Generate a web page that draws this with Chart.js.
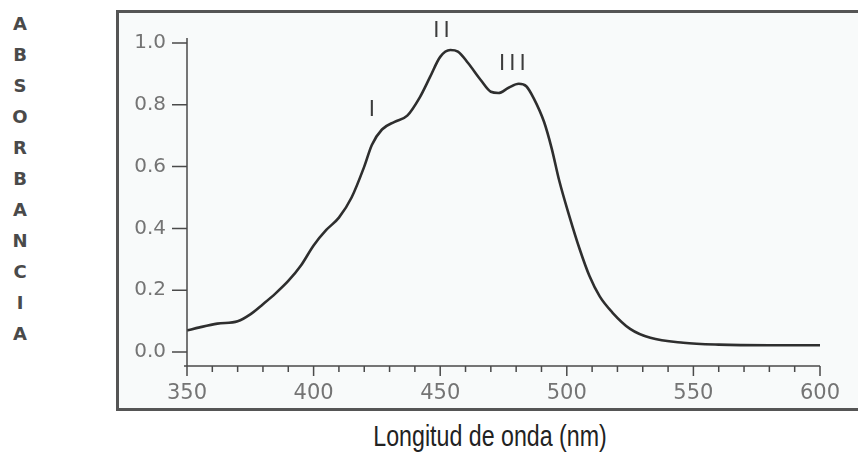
<!DOCTYPE html>
<html>
<head>
<meta charset="utf-8">
<script src="https://cdn.jsdelivr.net/npm/chart.js@4.4.1/dist/chart.umd.min.js"></script>
<style>
  body { margin: 0; background: #fff; }
  #wrap { position: relative; width: 858px; height: 460px; overflow: hidden; }
  #frame {
    position: absolute; left: 116px; top: 10px; width: 800px; height: 395px;
    border: 3px solid #555; background: #f8fafa;
  }
  #ylabel {
    position: absolute; left: 10px; top: 8px; width: 20px; text-align: center;
    font: bold 18px 'DejaVu Sans', sans-serif; line-height: 31px; color: #4a4a4a;
  }
  #xlabel {
    position: absolute; left: 290px; top: 420px; width: 400px; text-align: center;
    font: 29px 'Liberation Sans', sans-serif; color: #222;
    transform: scaleX(0.8); transform-origin: 50% 0;
  }
  canvas { position: absolute; left: 0; top: 0; }
</style>
</head>
<body>
<div id="wrap">
  <div id="frame"></div>
  <div id="ylabel">A<br>B<br>S<br>O<br>R<br>B<br>A<br>N<br>C<br>I<br>A</div>
  <div id="xlabel">Longitud de onda (nm)</div>
  <canvas id="chart" width="858" height="460"></canvas>
</div>
<script>
const WAVELENGTHS = [350, 355, 362, 370, 375, 380, 385, 390, 395, 400, 405, 410, 415, 420, 423, 427, 432, 437, 442, 446, 450, 454, 457, 461, 466, 470, 473, 477, 481, 484, 487, 491, 494, 497, 501, 505, 509, 513, 518, 525, 533, 546, 560, 580, 600];
const ABSORBANCE = [0.07, 0.08, 0.092, 0.1, 0.122, 0.155, 0.19, 0.23, 0.28, 0.345, 0.395, 0.435, 0.5, 0.6, 0.67, 0.72, 0.745, 0.765, 0.825, 0.89, 0.955, 0.977, 0.972, 0.935, 0.88, 0.842, 0.838, 0.855, 0.868, 0.86, 0.82, 0.745, 0.66, 0.555, 0.44, 0.335, 0.245, 0.18, 0.128, 0.075, 0.046, 0.03, 0.024, 0.022, 0.022];

const X_TICKS = [350, 400, 450, 500, 550, 600];
const X_MINOR = [350, 360, 370, 380, 390, 400, 410, 420, 430, 440, 450, 460, 470, 480, 490, 500, 510, 520, 530, 540, 550, 560, 570, 580, 590, 600];
const Y_TICKS = [0, 0.2, 0.4, 0.6, 0.8, 1.0];

const PEAK_NAMES = ['I', 'II', 'III'];
const PEAK_X = [423, 450.5, 478.5];
const PEAK_Y = [0.78, 1.036, 0.93];

const AXIS = '#4a4a4a';
const TICK_TEXT = '#747474';

// axis lines, tick marks and peak labels
const axisLines = {
  id: 'axisLines',
  afterDraw(chart) {
    const { ctx, scales: { x, y } } = chart;
    const x0 = x.getPixelForValue(x.min);
    const y0 = y.getPixelForValue(y.min);
    ctx.save();
    ctx.strokeStyle = AXIS;
    ctx.lineWidth = 1.5;
    ctx.beginPath();
    ctx.moveTo(x0, y.getPixelForValue(y.max));
    ctx.lineTo(x0, y0 + 10);
    ctx.moveTo(x0 - 3, y0);
    ctx.lineTo(x.getPixelForValue(x.max), y0);
    Y_TICKS.forEach(v => {
      const p = y.getPixelForValue(v);
      ctx.moveTo(x0 - 15, p);
      ctx.lineTo(x0, p);
    });
    X_MINOR.forEach(v => {
      const p = x.getPixelForValue(v);
      ctx.moveTo(p, y0);
      ctx.lineTo(p, y0 + (X_TICKS.includes(v) ? 10 : 6));
    });
    ctx.stroke();

    ctx.fillStyle = '#3c3c3c';
    ctx.font = "21px 'DejaVu Sans', sans-serif";
    ctx.textAlign = 'center';
    ctx.textBaseline = 'middle';
    if ('letterSpacing' in ctx) ctx.letterSpacing = '4px';
    PEAK_NAMES.forEach((t, i) => {
      ctx.fillText(t, x.getPixelForValue(PEAK_X[i]) + 2, y.getPixelForValue(PEAK_Y[i]));
    });
    ctx.restore();
  }
};

new Chart(document.getElementById('chart'), {
  type: 'line',
  data: {
    datasets: [{
      data: WAVELENGTHS.map((w, i) => ({ x: w, y: ABSORBANCE[i] })),
      borderColor: '#2e2e2e',
      borderWidth: 2.6,
      pointRadius: 0,
      fill: false,
      cubicInterpolationMode: 'monotone',
    }]
  },
  options: {
    responsive: false,
    animation: false,
    layout: { padding: { left: 127, right: 38, top: 38, bottom: 54 } },
    plugins: { legend: { display: false }, tooltip: { enabled: false } },
    scales: {
      x: {
        type: 'linear',
        min: 350,
        max: 600,
        afterBuildTicks: s => { s.ticks = X_TICKS.map(v => ({ value: v })); },
        afterFit: s => { s.height = 40; },
        grid: { display: false, drawTicks: false },
        border: { display: false },
        ticks: {
          color: TICK_TEXT,
          padding: 15,
          maxRotation: 0,
          autoSkip: false,
          font: { family: "'DejaVu Sans', sans-serif", size: 21 },
          callback: v => String(v),
        }
      },
      y: {
        min: -0.045,
        max: 1.016,
        afterBuildTicks: s => { s.ticks = Y_TICKS.map(v => ({ value: v })); },
        afterFit: s => { s.width = 60; },
        grid: { display: false, drawTicks: false },
        border: { display: false },
        ticks: {
          color: TICK_TEXT,
          padding: 21,
          autoSkip: false,
          font: { family: "'DejaVu Sans', sans-serif", size: 20 },
          callback: v => v.toFixed(1),
        }
      }
    }
  },
  plugins: [axisLines]
});
</script>
</body>
</html>
